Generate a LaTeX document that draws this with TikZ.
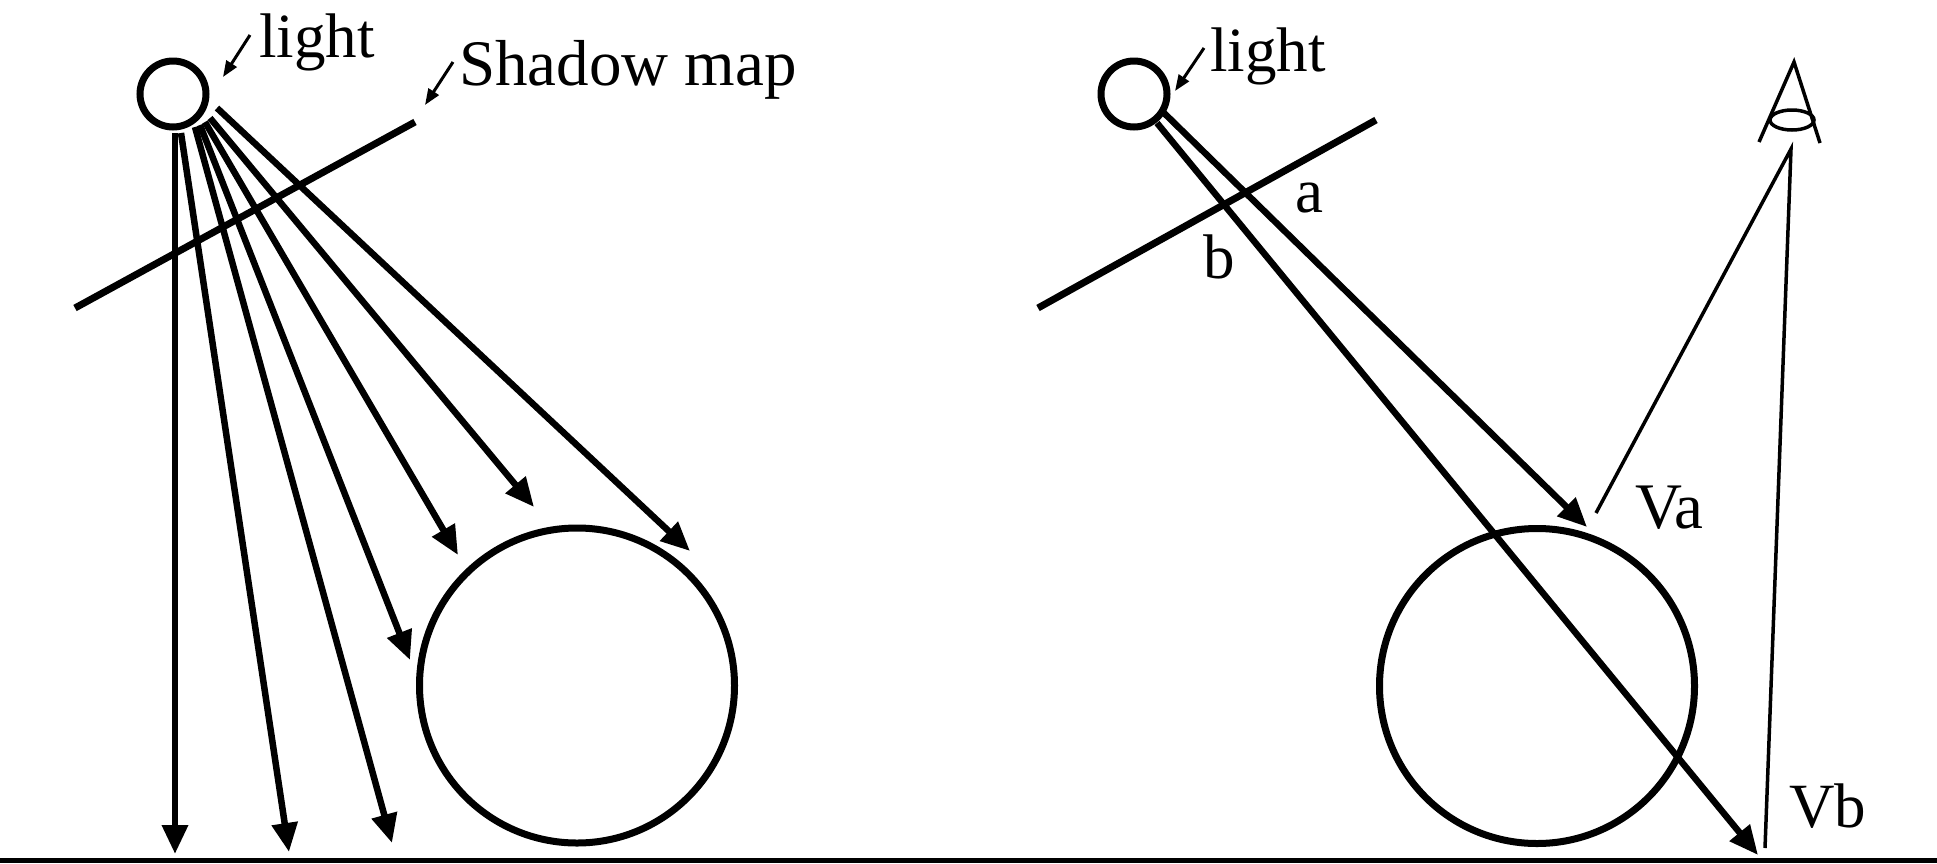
\documentclass[tikz,border=0pt]{standalone}
\usepackage{fontspec}
\setmainfont{Liberation Serif}
\usetikzlibrary{arrows.meta,shapes.geometric}
\tikzset{
  ball/.style={draw=black,circle,line width=7pt,inner sep=0pt,minimum size=#1},
  label text/.style={anchor=base west,inner sep=0pt,outer sep=0pt,font=\fontsize{63}{70}\selectfont},
  wide text/.style={anchor=base west,inner sep=0pt,outer sep=0pt,font=\fontsize{65}{70}\selectfont},
  ray/.style={draw=black,line width=6.5pt,-{Triangle[length=29pt,width=25pt]}},
  pointer/.style={draw=black,line width=3pt,-{Triangle[length=16pt,width=12pt]}},
  mapline/.style={draw=black,line width=7pt},
  thin ray/.style={draw=black,line width=3.5pt},
}
\begin{document}
\begin{tikzpicture}[x=1pt,y=-1pt]
\useasboundingbox (0,0) rectangle (1937,863);
\fill[white] (0,0) rectangle (1937,863);
% ground
\fill[black] (0,857.5) rectangle (1937,863);
% ---------- left panel
\node[ball=66pt] (L1) at (173,94) {};
\node[ball=315pt] (S1) at (577,685.5) {};
\node[label text] (t1) at (259,57) {light};
\node[wide text] (t2) at (459,85) {Shadow map};
\coordinate (m1a) at (75,308);
\coordinate (m1b) at (415,122);
\draw[mapline] (m1a) -- (m1b);
\coordinate (p1a) at (250,35);  \coordinate (p1b) at (223,77);
\coordinate (p2a) at (453,62);  \coordinate (p2b) at (425,105);
\draw[pointer] (p1a) -- (p1b);
\draw[pointer] (p2a) -- (p2b);
\coordinate (a1) at (175,133); \coordinate (e1) at (175,854);
\coordinate (a2) at (181,133); \coordinate (e2) at (289,852);
\coordinate (a3) at (195,127); \coordinate (e3) at (392,843);
\coordinate (a4) at (200,125); \coordinate (e4) at (410,660);
\coordinate (a5) at (205,122); \coordinate (e5) at (458,555);
\coordinate (a6) at (210,118); \coordinate (e6) at (534,507);
\coordinate (a7) at (217,108); \coordinate (e7) at (690,551);
\foreach \i in {1,...,7} {\draw[ray] (a\i) -- (e\i);}
% ---------- right panel
\node[ball=66pt] (L2) at (1134,94) {};
\node[ball=315pt] (S2) at (1537,686) {};
\node[label text] (t3) at (1210,71) {light};
\node[label text] (ta) at (1295,212) {a};
\node[label text] (tb) at (1203,278) {b};
\node[wide text] (tVa) at (1635,528) {Va};
\node[label text] (tVb) at (1789,827) {Vb};
\coordinate (m2a) at (1038,308);
\coordinate (m2b) at (1376,120);
\draw[mapline] (m2a) -- (m2b);
\coordinate (p3a) at (1204,48); \coordinate (p3b) at (1175,91);
\draw[pointer] (p3a) -- (p3b);
\coordinate (ra) at (1163,112); \coordinate (rae) at (1587,527);
\coordinate (rb) at (1157,123); \coordinate (rbe) at (1758,855);
\draw[ray] (ra) -- (rae);
\draw[ray] (rb) -- (rbe);
% eye
\coordinate (eA) at (1794,62);
\coordinate (eL) at (1759,142);
\coordinate (eR) at (1820,143);
\draw[thin ray] (eL) -- (eA) -- (eR);
\node[draw=black,line width=3.5pt,ellipse,inner sep=0pt,minimum width=44pt,minimum height=20pt] (lens) at (1792,120) {};
% view rays
\coordinate (v) at (1791,149);
\coordinate (va) at (1596,513);
\coordinate (vb) at (1765,848);
\draw[thin ray] (va) -- (v) -- (vb);
\end{tikzpicture}
\end{document}
